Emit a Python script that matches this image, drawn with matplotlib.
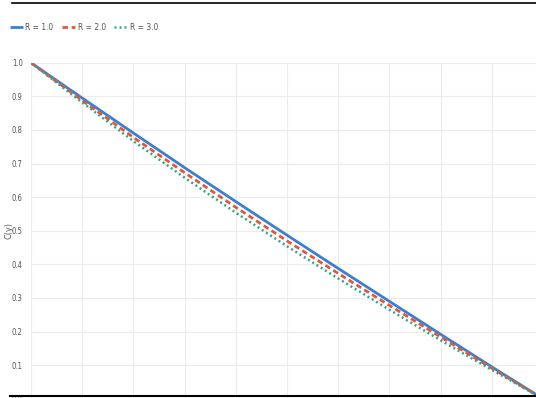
import matplotlib
matplotlib.use("Agg")
import matplotlib.pyplot as plt
from matplotlib.lines import Line2D
from matplotlib import font_manager

y_pos = [0.0, 0.1, 0.2, 0.3, 0.4, 0.5, 0.6, 0.7, 0.8, 0.9, 1.0]
c_r1 = [1.0, 0.895, 0.791, 0.688, 0.587, 0.487, 0.388, 0.290, 0.192, 0.095, 0.0]
c_r2 = [1.0, 0.888, 0.778, 0.673, 0.570, 0.470, 0.373, 0.278, 0.184, 0.091, 0.0]
c_r3 = [1.0, 0.882, 0.767, 0.658, 0.554, 0.454, 0.358, 0.265, 0.174, 0.086, 0.0]
labels = ["R = 1.0", "R = 2.0", "R = 3.0"]
y_ticks = [0.0, 0.1, 0.2, 0.3, 0.4, 0.5, 0.6, 0.7, 0.8, 0.9, 1.0]

names = {f.name for f in font_manager.fontManager.ttflist}
narrow = [n for n in ['Liberation Sans Narrow', 'DejaVu Sans Condensed'] if n in names]
plt.rcParams['font.family'] = narrow + ['DejaVu Sans']
plt.rcParams['font.stretch'] = 'condensed'

fig = plt.figure(figsize=(5.36, 3.98), dpi=100)
# the original screenshot is cropped, so the axes run past the right and bottom edge
ax = fig.add_axes([31 / 536, -0.002, 512 / 536, 336 / 398])

ax.plot(y_pos, c_r1, color='#3a7fd5', lw=2.0, label=labels[0], solid_capstyle='butt')
ax.plot(y_pos, c_r2, color='#e0573a', lw=2.0, ls=(0, (2, 1.3)), label=labels[1])
ax.plot(y_pos, c_r3, color='#35a585', lw=1.8, ls=(0, (0.8, 1.2)), label=labels[2])

ax.set_xlim(0, 1)
ax.set_ylim(0, 1)
ax.set_yticks(y_ticks)
ax.set_yticklabels([f"{t:.1f}" for t in y_ticks])
ax.set_xticks([i / 10 for i in range(11)])
ax.set_xticklabels([])
ax.tick_params(axis='both', length=0, labelsize=5.5, colors='#555555', pad=6)
ax.set_ylabel("C(y)", fontsize=6.5, color='#555555')
ax.yaxis.set_label_coords(-0.035, 0.5)
ax.grid(True, color='#ececec', lw=0.8)
for s in ax.spines.values():
    s.set_visible(False)

fig.legend(loc='upper left', bbox_to_anchor=(0.004, 0.962), ncol=3, frameon=False,
           fontsize=6, handlelength=1.6, handletextpad=0.3, columnspacing=1.0,
           labelcolor='#555555')

# page rules above and below the picture
fig.add_artist(Line2D([12 / 536, 1], [1 - 3 / 398, 1 - 3 / 398], color='black', lw=1.2,
                      transform=fig.transFigure))
fig.add_artist(Line2D([10 / 536, 1], [2 / 398, 2 / 398], color='black', lw=1.5,
                      transform=fig.transFigure))

fig.savefig("out.png", dpi=100)
